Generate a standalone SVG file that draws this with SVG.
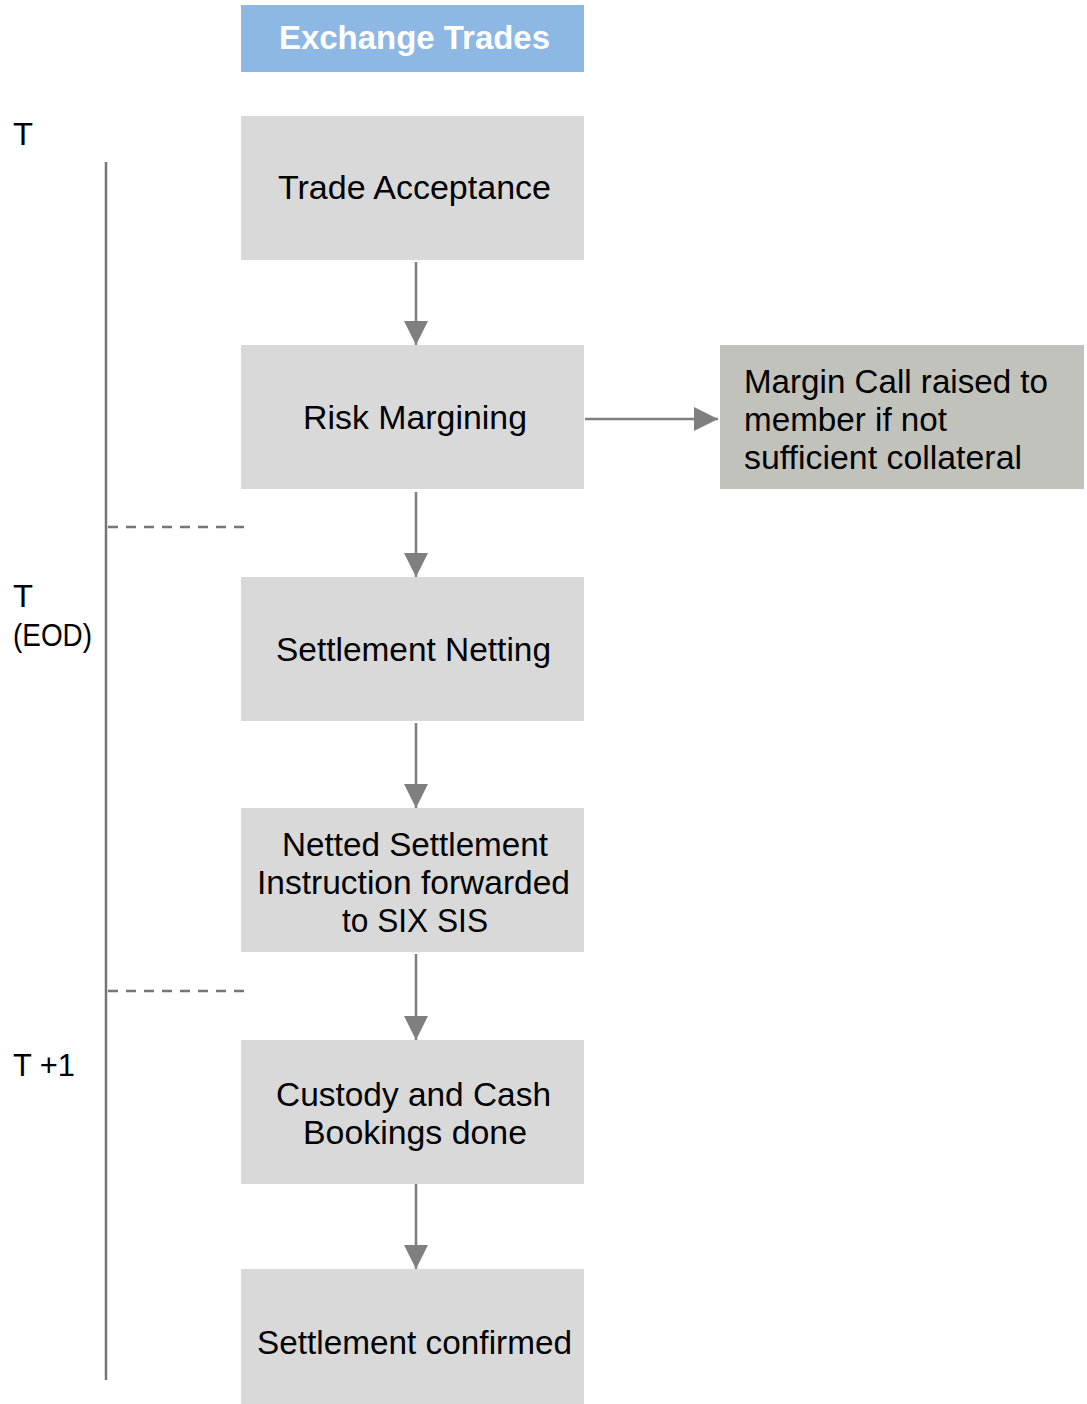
<svg xmlns="http://www.w3.org/2000/svg" width="1087" height="1404" viewBox="0 0 1087 1404">
<style>
.box{fill:#d9d9d9}
.t{font-family:"Liberation Sans",Arial,sans-serif;font-size:33px;fill:#000}
.lb{font-family:"Liberation Sans",Arial,sans-serif;font-size:32px;fill:#000}
.c{text-anchor:middle}
.conn{stroke:#7f7f7f;stroke-width:2.5;fill:none}
.tl{stroke:#767670;stroke-width:2.5;fill:none}
.dash{stroke:#767670;stroke-width:2.5;stroke-dasharray:10 8;fill:none}
</style>
<defs>
<marker id="arr" viewBox="0 0 24 24" refX="24" refY="12" markerWidth="24" markerHeight="24" orient="auto" markerUnits="userSpaceOnUse">
<path d="M0,0 L24,12 L0,24 z" fill="#7f7f7f"/>
</marker>
</defs>
<g id="timeline">
<line class="tl" x1="106" y1="162" x2="106" y2="1380"/>
<line class="dash" x1="108" y1="527" x2="245" y2="527"/>
<line class="dash" x1="108" y1="991" x2="245" y2="991"/>
<text class="lb" x="13" y="145" textLength="20" lengthAdjust="spacingAndGlyphs">T</text>
<text class="lb" x="13" y="607" textLength="20" lengthAdjust="spacingAndGlyphs">T</text>
<text class="lb" x="13" y="646" textLength="79" lengthAdjust="spacingAndGlyphs">(EOD)</text>
<text class="lb" x="13" y="1076" textLength="62" lengthAdjust="spacingAndGlyphs">T +1</text>
</g>
<g id="exchange-trades">
<rect x="241" y="5" width="343" height="67" fill="#8db8e4"/>
<text x="414.5" y="49" text-anchor="middle" font-family="'Liberation Sans',Arial,sans-serif" font-size="33" font-weight="bold" fill="#fff" textLength="271" lengthAdjust="spacingAndGlyphs">Exchange Trades</text>
</g>
<g id="trade-acceptance">
<rect class="box" x="241" y="116" width="343" height="144"/>
<text class="t c" x="414.5" y="199" textLength="273" lengthAdjust="spacingAndGlyphs">Trade Acceptance</text>
</g>
<g id="risk-margining">
<rect class="box" x="241" y="345" width="343" height="144"/>
<text class="t c" x="415" y="429" textLength="224" lengthAdjust="spacingAndGlyphs">Risk Margining</text>
</g>
<g id="margin-call">
<rect x="720" y="345" width="364" height="144" fill="#c0c2bb"/>
<text class="t" x="744" y="393" textLength="304" lengthAdjust="spacingAndGlyphs">Margin Call raised to</text>
<text class="t" x="744" y="431" textLength="203" lengthAdjust="spacingAndGlyphs">member if not</text>
<text class="t" x="744" y="469" textLength="278" lengthAdjust="spacingAndGlyphs">sufficient collateral</text>
</g>
<g id="settlement-netting">
<rect class="box" x="241" y="577" width="343" height="144"/>
<text class="t c" x="413.5" y="661" textLength="275" lengthAdjust="spacingAndGlyphs">Settlement Netting</text>
</g>
<g id="netted-instruction">
<rect class="box" x="241" y="808" width="343" height="144"/>
<text class="t c" x="415" y="856" textLength="266" lengthAdjust="spacingAndGlyphs">Netted Settlement</text>
<text class="t c" x="413.5" y="894" textLength="313" lengthAdjust="spacingAndGlyphs">Instruction forwarded</text>
<text class="t c" x="415" y="932" textLength="146" lengthAdjust="spacingAndGlyphs">to SIX SIS</text>
</g>
<g id="custody-cash">
<rect class="box" x="241" y="1040" width="343" height="144"/>
<text class="t c" x="413.5" y="1106" textLength="275" lengthAdjust="spacingAndGlyphs">Custody and Cash</text>
<text class="t c" x="415" y="1144" textLength="224" lengthAdjust="spacingAndGlyphs">Bookings done</text>
</g>
<g id="settlement-confirmed">
<rect class="box" x="241" y="1269" width="343" height="144"/>
<text class="t c" x="414.5" y="1354" textLength="315" lengthAdjust="spacingAndGlyphs">Settlement confirmed</text>
</g>
<g id="connectors">
<line class="conn" x1="416" y1="262" x2="416" y2="345" marker-end="url(#arr)"/>
<line class="conn" x1="416" y1="492" x2="416" y2="577" marker-end="url(#arr)"/>
<line class="conn" x1="416" y1="723" x2="416" y2="808" marker-end="url(#arr)"/>
<line class="conn" x1="416" y1="954" x2="416" y2="1040" marker-end="url(#arr)"/>
<line class="conn" x1="416" y1="1184" x2="416" y2="1269" marker-end="url(#arr)"/>
<line class="conn" x1="585" y1="419" x2="718" y2="419" marker-end="url(#arr)"/>
</g>
</svg>
